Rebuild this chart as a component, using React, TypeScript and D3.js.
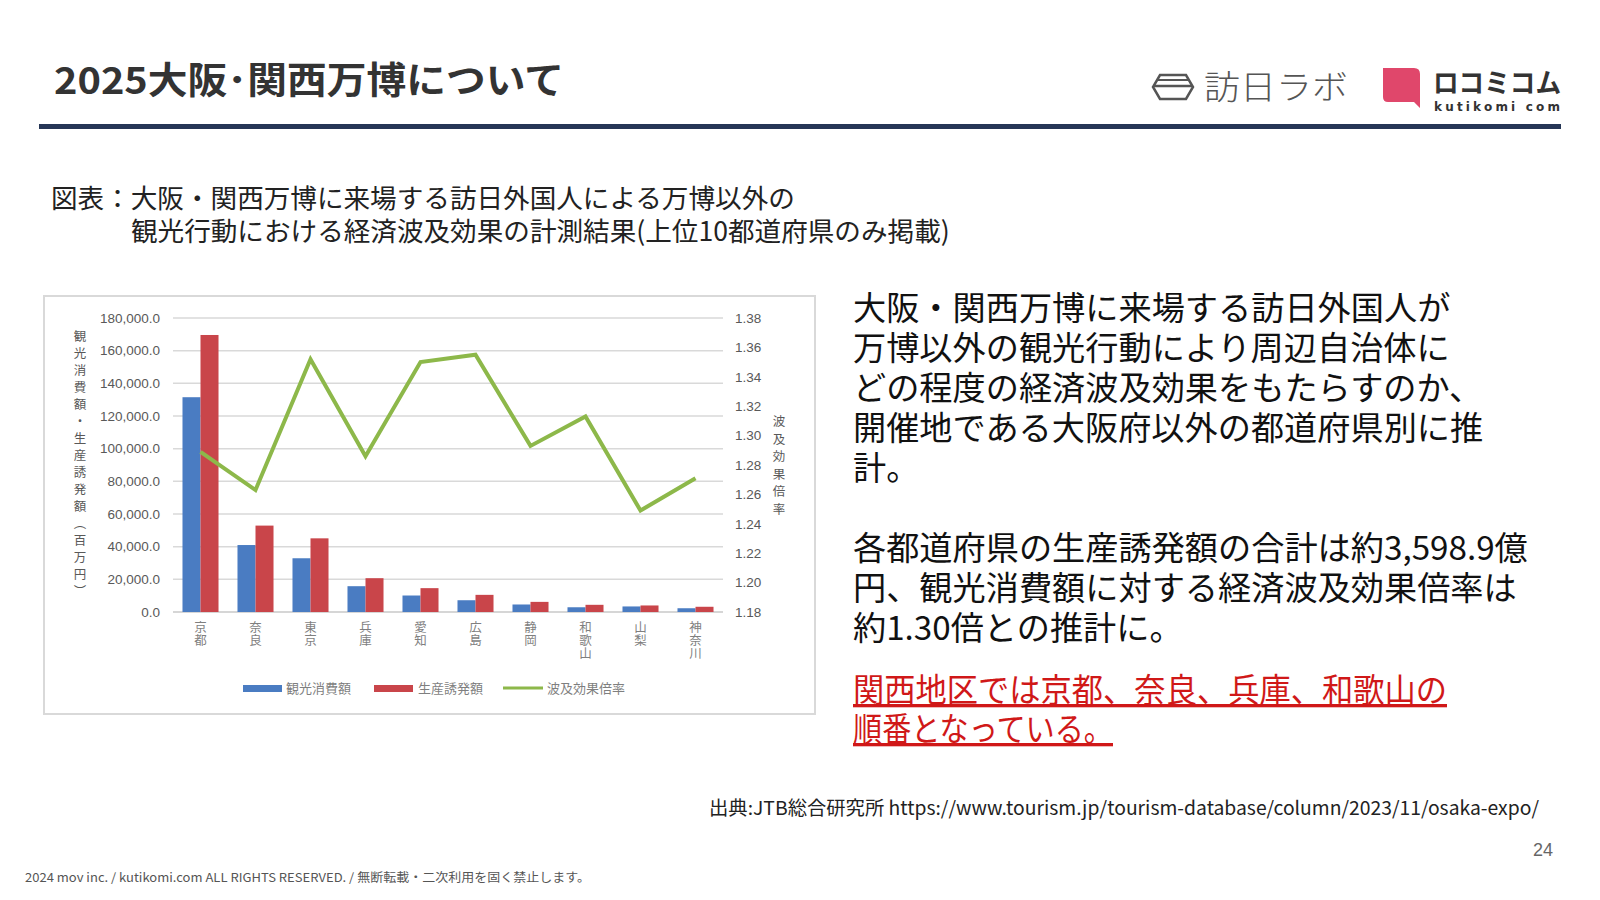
import * as d3 from "d3";

// data
const prefectures = ["京都", "奈良", "東京", "兵庫", "愛知", "広島", "静岡", "和歌山", "山梨", "神奈川"];
const tourismSpend = [131500, 41000, 32900, 15800, 10100, 7200, 4600, 2900, 3400, 2300];
const inducedProduction = [169600, 52900, 45100, 20700, 14600, 10500, 6200, 4400, 4000, 3200];
const multiplier = [1.289, 1.263, 1.352, 1.286, 1.35, 1.355, 1.293, 1.313, 1.249, 1.271];

const leftTicks = d3.range(0, 180001, 20000);
const rightTicks = d3.range(1.18, 1.3801, 0.02);

const seriesNames = ["観光消費額", "生産誘発額", "波及効果倍率"];
const seriesColors = ["#4a7cc2", "#c9454a", "#8db84a"];

const bodyLines = [
  "大阪・関西万博に来場する訪日外国人が",
  "万博以外の観光行動により周辺自治体に",
  "どの程度の経済波及効果をもたらすのか、",
  "開催地である大阪府以外の都道府県別に推",
  "計。",
];
const summaryLines = [
  "各都道府県の生産誘発額の合計は約3,598.9億",
  "円、観光消費額に対する経済波及効果倍率は",
  "約1.30倍との推計に。",
];
const highlightLines = ["関西地区では京都、奈良、兵庫、和歌山の", "順番となっている。"];
const highlightWidths = [594, 260];

const JP = "'Noto Sans CJK JP', 'Noto Sans', sans-serif";
const vertical = { writingMode: "vertical-rl" as const };

function Chart() {
  const left = 173;
  const right = 723;
  const top = 318;
  const bottom = 612;

  const x = d3.scaleBand().domain(prefectures).range([left, right]).paddingInner(0.345).paddingOuter(0.1725);
  const x1 = d3.scaleBand().domain(["spend", "prod"]).range([0, x.bandwidth()]);
  const yL = d3.scaleLinear().domain([0, 180000]).range([bottom, top]);
  const yR = d3.scaleLinear().domain([1.18, 1.38]).range([bottom, top]);

  const line = d3
    .line<number>()
    .x((_, i) => (x(prefectures[i]) ?? 0) + x.bandwidth() / 2)
    .y((d) => yR(d));

  const fmtL = d3.format(",.1f");
  const fmtR = d3.format(".2f");

  return (
    <g>
      {/* frame */}
      <rect x={44} y={296} width={771} height={418} fill="#fff" stroke="#d9d9d9" strokeWidth={2} />

      {/* grid */}
      {leftTicks.map((t) => (
        <line key={t} x1={left} x2={right} y1={yL(t)} y2={yL(t)} stroke={t === 0 ? "#c8c8c8" : "#d9d9d9"} strokeWidth={1.5} />
      ))}

      {/* left ticks */}
      {leftTicks.map((t) => (
        <text key={t} x={160} y={yL(t)} dy="0.35em" textAnchor="end" fontSize={13.5} fill="#595959" fontFamily="'Liberation Sans', sans-serif">
          {fmtL(t)}
        </text>
      ))}

      {/* right ticks */}
      {rightTicks.map((t) => (
        <text key={t} x={735} y={yR(t)} dy="0.35em" fontSize={13.5} fill="#595959" fontFamily="'Liberation Sans', sans-serif">
          {fmtR(t)}
        </text>
      ))}

      {/* axis titles */}
      <text x={80} y={330} fontSize={12.5} letterSpacing={4.5} fill="#595959" fontFamily={JP} style={vertical}>
        観光消費額・生産誘発額（百万円）
      </text>
      <text x={779} y={415} fontSize={12.5} letterSpacing={5} fill="#595959" fontFamily={JP} style={vertical}>
        波及効果倍率
      </text>

      {/* bars */}
      {prefectures.map((p, i) => (
        <g key={p} transform={`translate(${x(p)},0)`}>
          <rect x={x1("spend")} y={yL(tourismSpend[i])} width={x1.bandwidth()} height={bottom - yL(tourismSpend[i])} fill={seriesColors[0]} />
          <rect x={x1("prod")} y={yL(inducedProduction[i])} width={x1.bandwidth()} height={bottom - yL(inducedProduction[i])} fill={seriesColors[1]} />
        </g>
      ))}

      {/* multiplier line */}
      <path d={line(multiplier) ?? ""} fill="none" stroke={seriesColors[2]} strokeWidth={4} />

      {/* category labels, vertical */}
      {prefectures.map((p) => (
        <text key={p} x={(x(p) ?? 0) + x.bandwidth() / 2} y={621} fontSize={12.5} letterSpacing={0.5} fill="#7f7f7f" fontFamily={JP} style={vertical}>
          {p}
        </text>
      ))}

      {/* legend */}
      <rect x={243} y={685} width={39} height={7} fill={seriesColors[0]} />
      <text x={286} y={688} dy="0.35em" fontSize={13} fill="#7f7f7f" fontFamily={JP}>{seriesNames[0]}</text>
      <rect x={374} y={685} width={39} height={7} fill={seriesColors[1]} />
      <text x={418} y={688} dy="0.35em" fontSize={13} fill="#7f7f7f" fontFamily={JP}>{seriesNames[1]}</text>
      <line x1={503} x2={543} y1={688} y2={688} stroke={seriesColors[2]} strokeWidth={3} />
      <text x={547} y={688} dy="0.35em" fontSize={13} fill="#7f7f7f" fontFamily={JP}>{seriesNames[2]}</text>
    </g>
  );
}

export default function App() {
  return (
    <svg width={1600} height={900} style={{ position: "absolute", left: 0, top: 0, background: "#fff" }}>
      <rect width={1600} height={900} fill="#fff" />

      {/* header */}
      <text x={54} y={94} fontSize={37} fontWeight={700} fill="#333" fontFamily={JP} textLength={510} lengthAdjust="spacingAndGlyphs">
        2025大阪･関西万博について
      </text>
      <rect x={39} y={124} width={1522} height={5} fill="#263656" />

      {/* 訪日ラボ logo */}
      <path d="M1160,75 L1186,75 L1193,87 L1186,99 L1160,99 L1153,87 Z" fill="none" stroke="#555" strokeWidth={2.5} />
      <line x1={1154} x2={1192} y1={86} y2={86} stroke="#555" strokeWidth={2.5} />
      <line x1={1158} x2={1188} y1={80} y2={80} stroke="#555" strokeWidth={2} />
      <text x={1204} y={99} fontSize={33} fontWeight={300} fill="#555" fontFamily={JP} textLength={144} lengthAdjust="spacingAndGlyphs">訪日ラボ</text>

      {/* kutikomi logo */}
      <path d="M1383,68 L1414,68 Q1420,68 1420,74 L1420,108 L1414,102 L1388,102 Q1383,102 1383,97 Z" fill="#e0476b" />
      <text x={1433} y={93} fontSize={27} fontWeight={700} fill="#333" fontFamily={JP} textLength={128} lengthAdjust="spacingAndGlyphs">ロコミコム</text>
      <text x={1434} y={111} fontSize={12} fontWeight={700} fill="#333" fontFamily="'DejaVu Sans', sans-serif" textLength={126} lengthAdjust="spacing">kutikomi com</text>

      {/* chart caption */}
      <text fontSize={26.6} fill="#222" fontFamily={JP}>
        <tspan x={51} y={208}>図表：大阪・関西万博に来場する訪日外国人による万博以外の</tspan>
        <tspan x={131} y={241}>観光行動における経済波及効果の計測結果(上位10都道府県のみ掲載)</tspan>
      </text>

      <Chart />

      {/* right-hand commentary */}
      <text fontSize={33.2} fill="#111" fontFamily={JP}>
        {bodyLines.map((l, i) => (
          <tspan key={l} x={853} y={320 + i * 40}>{l}</tspan>
        ))}
      </text>
      <text fontSize={33.2} fill="#111" fontFamily={JP}>
        {summaryLines.map((l, i) => (
          <tspan key={l} x={853} y={560 + i * 40}>{l}</tspan>
        ))}
      </text>
      <text fontSize={33} fill="#d01818" fontFamily={JP} textDecoration="underline">
        {highlightLines.map((l, i) => (
          <tspan key={l} x={853} y={702 + i * 39} textLength={highlightWidths[i]} lengthAdjust="spacingAndGlyphs">{l}</tspan>
        ))}
      </text>

      {/* source */}
      <text x={709} y={815} fontSize={19} fill="#222" fontFamily={JP} textLength={830} lengthAdjust="spacingAndGlyphs">
        出典:JTB総合研究所 https://www.tourism.jp/tourism-database/column/2023/11/osaka-expo/
      </text>

      <text x={1553} y={856} fontSize={18} fill="#666" textAnchor="end" fontFamily="'Liberation Sans', sans-serif">24</text>
      <text x={25} y={882} fontSize={12} fill="#555" fontFamily={JP} textLength={565} lengthAdjust="spacingAndGlyphs">
        2024 mov inc. / kutikomi.com ALL RIGHTS RESERVED. / 無断転載・二次利用を固く禁止します。
      </text>
    </svg>
  );
}
